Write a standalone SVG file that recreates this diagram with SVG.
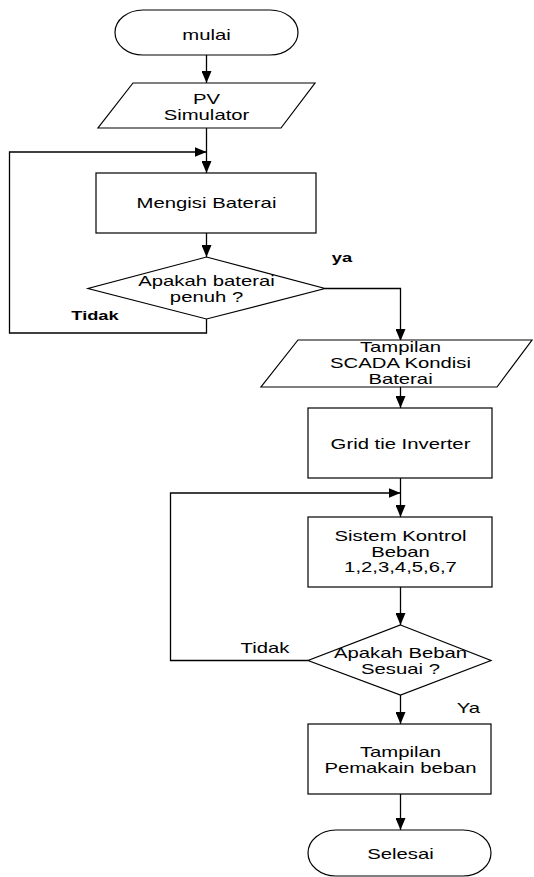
<svg xmlns="http://www.w3.org/2000/svg" width="534" height="877" viewBox="0 0 534 877">
<defs>
<marker id="ah" markerUnits="userSpaceOnUse" markerWidth="12" markerHeight="10" refX="12" refY="5" orient="auto">
<path d="M0,0 L12,5 L0,10 z" fill="#000"/>
</marker>
<style>
.s{fill:#fff;stroke:#000;stroke-width:1.2}
.c{fill:none;stroke:#000;stroke-width:1.3}
.a{marker-end:url(#ah)}
text{font-family:"Liberation Sans",Arial,sans-serif;font-size:14px;fill:#000;text-anchor:middle}
.b{font-weight:bold;font-size:12.6px}
</style>
</defs>
<rect width="534" height="877" fill="#fff"/>
<g id="connectors">
<line class="c a" x1="206.5" y1="55" x2="206.5" y2="83"/>
<line class="c a" x1="206.5" y1="128" x2="206.5" y2="173"/>
<polyline class="c a" points="206.5,319 206.5,333 9.5,333 9.5,152 206.5,152"/>
<line class="c a" x1="206.5" y1="233" x2="206.5" y2="257"/>
<polyline class="c a" points="325,288.5 400.5,288.5 400.5,341"/>
<line class="c a" x1="400.5" y1="387" x2="400.5" y2="408"/>
<line class="c a" x1="400.5" y1="478" x2="400.5" y2="517"/>
<polyline class="c a" points="308,660.5 170.5,660.5 170.5,493 400.5,493"/>
<line class="c a" x1="400.5" y1="587" x2="400.5" y2="625"/>
<line class="c a" x1="400.5" y1="695" x2="400.5" y2="724"/>
<line class="c a" x1="400.5" y1="794" x2="400.5" y2="830"/>
</g>
<g id="mulai">
<rect class="s" x="115" y="10" width="183" height="45" rx="28" ry="22.5"/>
<text transform="translate(206.5 39.5) scale(1.45 1)">mulai</text>
</g>
<g id="pv">
<polygon class="s" points="133,83 315,83 281,128 98,128"/>
<text transform="translate(206.5 104) scale(1.45 1)">PV</text>
<text transform="translate(206.5 119.5) scale(1.45 1)">Simulator</text>
</g>
<g id="mengisi">
<rect class="s" x="96" y="173" width="220" height="60"/>
<text transform="translate(206.5 208) scale(1.45 1)">Mengisi Baterai</text>
</g>
<g id="cek-baterai">
<polygon class="s" points="206.5,257 325,288.5 206.5,319 88,288.5"/>
<text transform="translate(206.5 286) scale(1.45 1)">Apakah baterai</text>
<text transform="translate(206.5 302) scale(1.45 1)">penuh ?</text>
</g>
<g id="label-ya">
<text class="b" transform="translate(342 262) scale(1.45 1)">ya</text>
</g>
<g id="label-tidak1">
<text class="b" transform="translate(95 320) scale(1.45 1)">Tidak</text>
</g>
<g id="scada">
<polygon class="s" points="298,340 532,340 497,387 261,387"/>
<text transform="translate(400.5 352) scale(1.45 1)">Tampilan</text>
<text transform="translate(400.5 368) scale(1.45 1)">SCADA Kondisi</text>
<text transform="translate(400.5 384) scale(1.45 1)">Baterai</text>
</g>
<g id="inverter">
<rect class="s" x="308" y="408" width="184" height="70"/>
<text transform="translate(400.5 449) scale(1.45 1)">Grid tie Inverter</text>
</g>
<g id="kontrol">
<rect class="s" x="308" y="517" width="184" height="70"/>
<text transform="translate(400.5 540.5) scale(1.45 1)">Sistem Kontrol</text>
<text transform="translate(400.5 556.5) scale(1.45 1)">Beban</text>
<text transform="translate(400.5 572) scale(1.45 1)">1,2,3,4,5,6,7</text>
</g>
<g id="cek-beban">
<polygon class="s" points="400.5,625 491,660.5 400.5,695 308,660.5"/>
<text transform="translate(400.5 658) scale(1.45 1)">Apakah Beban</text>
<text transform="translate(400.5 673.5) scale(1.45 1)">Sesuai ?</text>
</g>
<g id="label-tidak2">
<text transform="translate(265 653) scale(1.45 1)">Tidak</text>
</g>
<g id="label-ya2">
<text transform="translate(468.5 712.5) scale(1.45 1)">Ya</text>
</g>
<g id="pemakaian">
<rect class="s" x="308" y="724" width="183" height="70"/>
<text transform="translate(400.5 756.5) scale(1.45 1)">Tampilan</text>
<text transform="translate(400.5 772.5) scale(1.45 1)">Pemakain beban</text>
</g>
<g id="selesai">
<rect class="s" x="308" y="830" width="183" height="46" rx="28" ry="23"/>
<text transform="translate(400.5 859) scale(1.45 1)">Selesai</text>
</g>
</svg>
